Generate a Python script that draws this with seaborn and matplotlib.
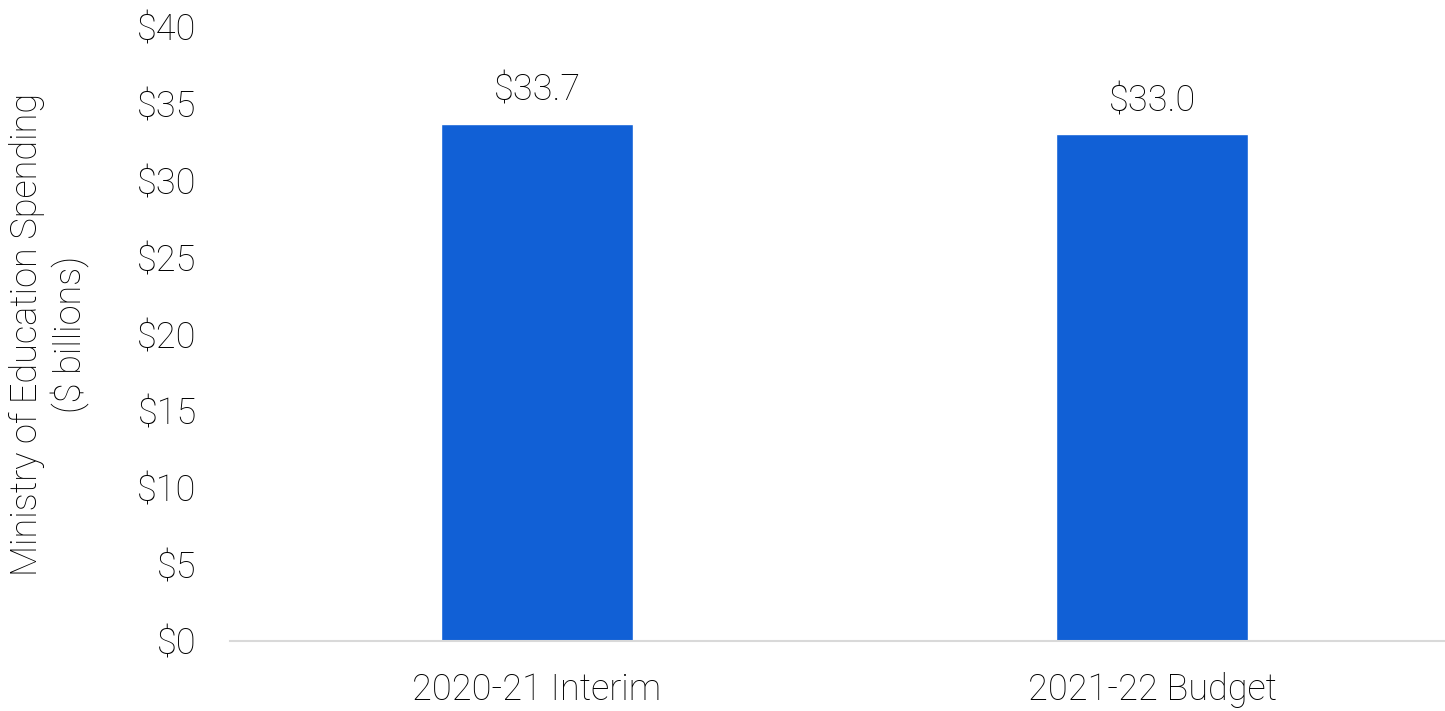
import matplotlib
matplotlib.use("Agg")
import matplotlib.pyplot as plt
import seaborn as sns
import pandas as pd

categories = ["2020-21 Interim", "2021-22 Budget"]
spending = [33.7, 33.0]
value_labels = ["$33.7", "$33.0"]
y_ticks = [0, 5, 10, 15, 20, 25, 30, 35, 40]

sns.set_theme(style="white")
plt.rcParams['font.family'] = ['Roboto', 'DejaVu Sans']

df = pd.DataFrame({"Period": categories, "Spending": spending})

fig = plt.figure(figsize=(14.45, 7.11), dpi=100)
ax = fig.add_axes([230 / 1445, 1 - 641 / 711, 1 - 230 / 1445, (641 - 27) / 711])

sns.barplot(data=df, x="Period", y="Spending", color="#1160D6", width=0.312,
            saturation=1, ax=ax)

for i, (v, lab) in enumerate(zip(spending, value_labels)):
    ax.text(i, v + 1.0, lab, ha="center", va="bottom", fontsize=26,
            fontweight="light", color="#000000")

ax.set_ylim(0, 40)
ax.set_xlim(-0.499, 1.476)
ax.set_yticks(y_ticks)
ax.set_yticklabels([f"${t}" for t in y_ticks], fontsize=26, fontweight="light", color="#000000")
ax.set_xticks(range(len(categories)))
ax.set_xticklabels(categories, fontsize=26, fontweight="light", color="#000000")
ax.tick_params(axis="both", length=0)
ax.tick_params(axis="y", pad=24)
ax.tick_params(axis="x", pad=22)
ax.set_xlabel("")
ax.set_ylabel("Ministry of Education Spending\n($ billions)", fontsize=26,
              fontweight="light", color="#000000", labelpad=34)

for s in ["top", "right", "left"]:
    ax.spines[s].set_visible(False)
ax.spines["bottom"].set_color("#d9d9d9")
ax.spines["bottom"].set_linewidth(1.5)

fig.savefig("out.png", dpi=100)
